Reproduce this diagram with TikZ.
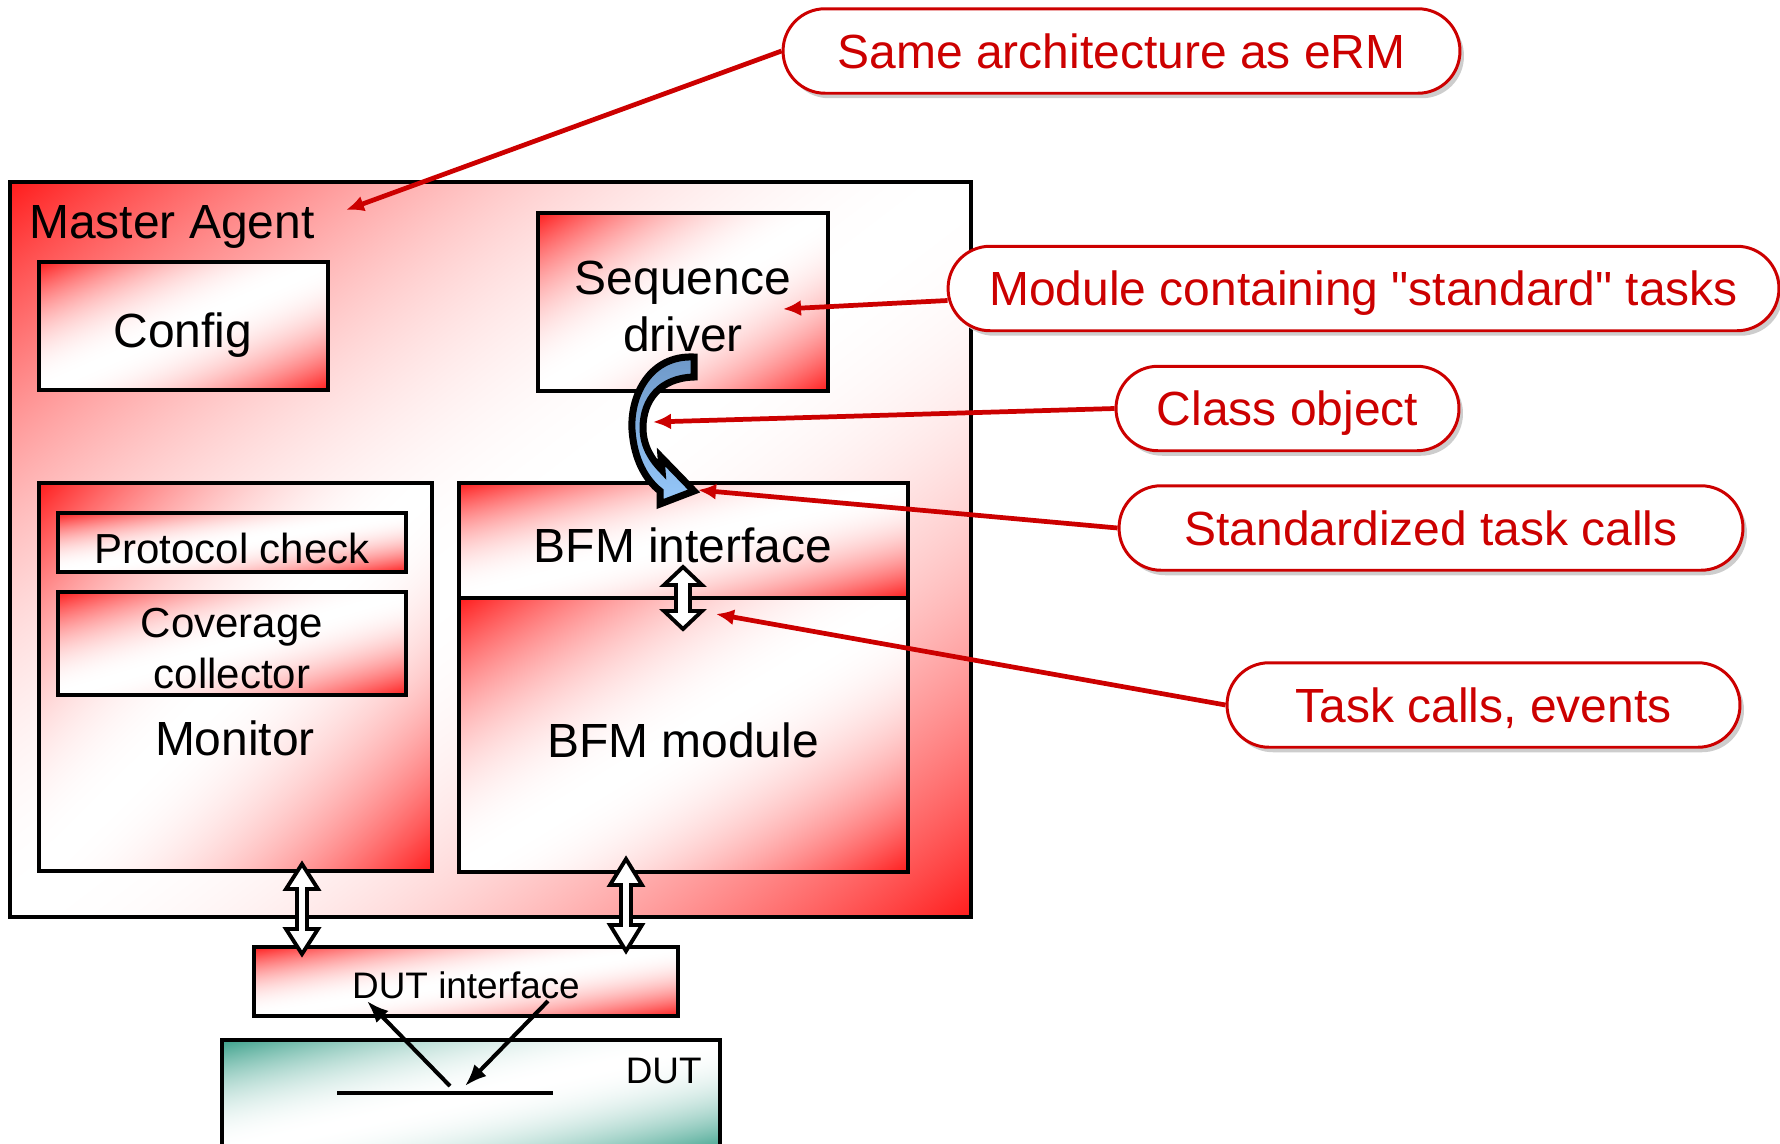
\documentclass[tikz,border=0pt]{standalone}
\usepackage{fontspec}
\setmainfont{Liberation Sans}[Ligatures=TeXOff]
\usetikzlibrary{fit,shadows,arrows.meta,calc}

\definecolor{callred}{RGB}{204,0,0}
\definecolor{arrowdark}{RGB}{110,152,200}
\definecolor{arrowlight}{RGB}{150,200,250}
\definecolor{shadowgray}{RGB}{205,205,205}

% Diagonal fill: full colour in the top-left and bottom-right corners,
% a wide white band along the bottom-left to top-right diagonal.
\pgfdeclarefunctionalshading{redwhite}{\pgfpoint{-50bp}{-50bp}}{\pgfpoint{50bp}{50bp}}{}{
  sub abs 50 div dup 1 gt {pop 1} if dup mul
  0.89 mul 1 exch sub dup 1 3 1 roll
}
\pgfdeclarefunctionalshading{tealwhite}{\pgfpoint{-50bp}{-50bp}}{\pgfpoint{50bp}{50bp}}{}{
  sub abs 50 div dup 1 gt {pop 1} if dup mul
  dup dup 0.773 mul 1 exch sub 3 1 roll
  0.373 mul 1 exch sub exch 0.459 mul 1 exch sub
}

\newcommand\bigtext{\fontsize{27.3pt}{32.4pt}\selectfont}
\newcommand\midtext{\fontsize{23.9pt}{29pt}\selectfont}
\newcommand\smalltext{\fontsize{21pt}{25pt}\selectfont}

\begin{document}
\begin{tikzpicture}[x=0.02cm, y=-0.02cm,
  redbox/.style={draw=black, line width=2pt, shade, shading=redwhite, inner sep=0pt, outer sep=0pt},
  tealbox/.style={redbox, shading=tealwhite},
  lbl/.style={font=\bigtext, inner sep=0pt, anchor=base},
  midlbl/.style={lbl, font=\midtext},
  smalllbl/.style={lbl, font=\smalltext},
  callout/.style={draw=callred, line width=1.7pt, fill=white, rounded corners=0.84cm, inner sep=0pt,
    minimum height=1.69cm, anchor=center,
    font=\bigtext, text=callred, text height=19.6pt, text depth=0pt,
    drop shadow={shadow xshift=0.08cm, shadow yshift=-0.1cm, fill=shadowgray, opacity=1}},
  leader/.style={draw=callred, line width=2.7pt, -{Latex[length=0.36cm, width=0.32cm]}},
  hollow/.style={draw=black, line width=2.2pt, fill=white, line join=miter},
  thinarrow/.style={draw=black, line width=2.3pt, -{Latex[length=0.44cm, width=0.34cm]}}
]
\useasboundingbox (0,0) rectangle (1780,1143);

% agent frame and its blocks
\node[redbox, fit={(10,182) (971,917)}] (agent) {};
\node[lbl, anchor=base west] (agenttxt) at (29,238) {Master Agent};

\node[redbox, fit={(39,262) (328,390)}] (config) {};
\node[lbl] (configtxt) at (183,347) {Config};

\node[redbox, fit={(538,213) (828,391)}] (seq) {};
\node[lbl] (seqtxt1) at (683,294) {Sequence};
\node[lbl] (seqtxt2) at (683,351) {driver};

\node[redbox, fit={(39,483) (432,871)}] (monitor) {};
\node[redbox, fit={(58,513) (406,572)}] (proto) {};
\node[midlbl] (prototxt) at (232,563) {Protocol check};
\node[redbox, fit={(58,592) (406,695)}] (cover) {};
\node[midlbl] (covertxt1) at (232,637) {Coverage};
\node[midlbl] (covertxt2) at (232,688) {collector};
\node[lbl] (monitortxt) at (235,755) {Monitor};

\node[redbox, fit={(459,483) (908,598)}] (bfmif) {};
\node[lbl] (bfmiftxt) at (683,562) {BFM interface};
\node[redbox, fit={(459,598) (908,872)}] (bfmmod) {};
\node[lbl] (bfmmodtxt) at (683,757) {BFM module};

% DUT side
\node[redbox, fit={(254,947) (678,1016)}] (dutif) {};
\node[smalllbl] (dutiftxt) at (466,998) {DUT interface};
\node[tealbox, fit={(222,1040) (720,1152)}] (dut) {};
\node[smalllbl, anchor=base east] (duttxt) at (702,1083) {DUT};

% hollow two-way links
\draw[hollow] (683,567) -- (702,585) -- (690,585) -- (690,611) -- (702,611) -- (683,629)
  -- (664,611) -- (676,611) -- (676,585) -- (664,585) -- cycle;
\draw[hollow] (302,864) -- (318,889) -- (307,889) -- (307,929) -- (318,929) -- (302,954)
  -- (286,929) -- (297,929) -- (297,889) -- (286,889) -- cycle;
\draw[hollow] (626,859) -- (642,885) -- (631,885) -- (631,925) -- (642,925) -- (626,951)
  -- (610,925) -- (621,925) -- (621,885) -- (610,885) -- cycle;

% curved call arrow from the driver into the BFM interface
\draw[draw=black, line width=0.14cm, line join=miter, top color=arrowdark, bottom color=arrowlight]
  (694,357) .. controls (650,355) and (630,395) .. (632,430)
  .. controls (634,460) and (646,480) .. (660,491)
  -- (660,504) -- (694,491) -- (661,457) -- (662,470)
  .. controls (652,460) and (643,446) .. (643,428)
  .. controls (643,400) and (660,378) .. (694,377) -- cycle;

% signal inside the DUT
\coordinate (sigL) at (337,1093);
\coordinate (sigR) at (553,1093);
\draw[line width=2.3pt] (sigL) -- (sigR);
\coordinate (upfrom) at (450,1086);
\coordinate (upto) at (367,1001);
\coordinate (downfrom) at (548,1001);
\coordinate (downto) at (465,1086);
\draw[thinarrow] (upfrom) -- (upto);
\draw[thinarrow] (downfrom) -- (downto);

% callouts
\node[callout, minimum width=13.54cm] (c1) at (1121.5,51) {Same architecture as eRM};
\node[callout, minimum width=16.62cm] (c2) at (1363.5,288.5) {Module containing "standard" tasks};
\node[callout, minimum width=6.86cm] (c3) at (1287.5,408.5) {Class object};
\node[callout, minimum width=12.48cm] (c4) at (1431,528) {Standardized task calls};
\node[callout, minimum width=10.26cm] (c5) at (1483.5,705) {Task calls, events};

\coordinate (t1) at (346,210);
\coordinate (t2) at (783,309);
\coordinate (t3) at (653,422);
\coordinate (t4) at (698,490);
\coordinate (t5) at (716,614);
\draw[leader] (c1.west) -- (t1);
\draw[leader] ($(c2.west)+(1,12)$) -- (t2);
\draw[leader] (c3.west) -- (t3);
\draw[leader] (c4.west) -- (t4);
\draw[leader] (c5.west) -- (t5);
\end{tikzpicture}
\end{document}
